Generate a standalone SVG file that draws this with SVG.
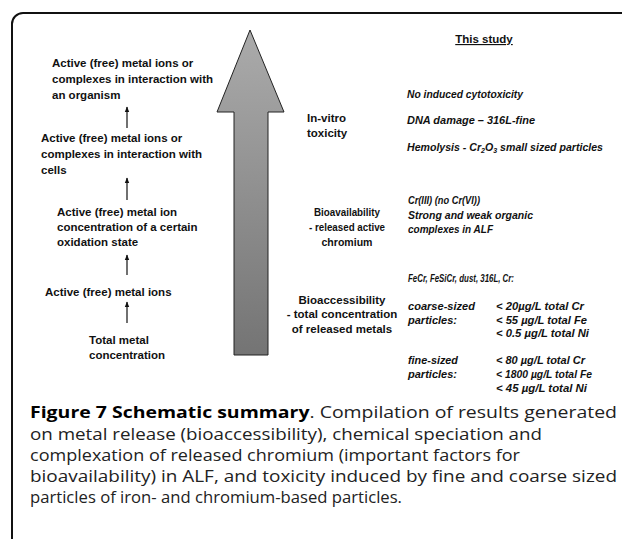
<svg xmlns="http://www.w3.org/2000/svg" width="622" height="539" viewBox="0 0 622 539">
<defs>
<linearGradient id="ag" x1="0" y1="0" x2="0" y2="1">
<stop offset="0" stop-color="#ababab"/>
<stop offset="1" stop-color="#747474"/>
</linearGradient>
<marker id="ah" markerWidth="6" markerHeight="6" refX="5" refY="3" orient="auto" markerUnits="userSpaceOnUse">
<path d="M0,0.8 L5.5,3 L0,5.2 Z" fill="#111"/>
</marker>
</defs>
<style>
.lb{font-family:"Liberation Sans",Arial,sans-serif;font-weight:bold;font-size:11.5px;fill:#111}
.it{font-family:"Liberation Sans",Arial,sans-serif;font-weight:bold;font-style:italic;font-size:10.5px;fill:#111}
.cap{font-family:"Open Sans","Noto Sans",sans-serif;font-size:15.4px;fill:#222}
.sm{stroke:#111;stroke-width:1.2;fill:none}
</style>
<rect width="622" height="539" fill="#fff"/>
<path d="M12,545 V24 A11,11 0 0 1 23,13 H630" fill="none" stroke="#111" stroke-width="2"/>

<g id="big-arrow">
<path d="M250,30 L284,112 L268,112 L268,355 L234,355 L234,112 L217,112 Z" fill="url(#ag)" stroke="#222" stroke-width="1"/>
</g>

<g id="n-organism">
<text class="lb" x="52" y="67">Active (free) metal ions or</text>
<text class="lb" x="52" y="83">complexes in interaction with</text>
<text class="lb" x="52" y="99">an organism</text>
</g>
<g id="n-cells">
<text class="lb" x="41" y="142">Active (free) metal ions or</text>
<text class="lb" x="41" y="158">complexes in interaction with</text>
<text class="lb" x="41" y="174">cells</text>
</g>
<g id="n-oxidation">
<text class="lb" x="57" y="216">Active (free) metal ion</text>
<text class="lb" x="57" y="231">concentration of a certain</text>
<text class="lb" x="57" y="246">oxidation state</text>
</g>
<g id="n-ions">
<text class="lb" x="45" y="296">Active (free) metal ions</text>
</g>
<g id="n-total">
<text class="lb" x="89" y="344">Total metal</text>
<text class="lb" x="89" y="359">concentration</text>
</g>

<g id="connectors">
<line class="sm" x1="127" y1="128" x2="127" y2="107" marker-end="url(#ah)"/>
<line class="sm" x1="127" y1="200" x2="127" y2="178" marker-end="url(#ah)"/>
<line class="sm" x1="127" y1="275" x2="127" y2="255" marker-end="url(#ah)"/>
<line class="sm" x1="127" y1="323" x2="127" y2="302" marker-end="url(#ah)"/>
</g>

<g id="this-study">
<text class="lb" x="484" y="43" text-anchor="middle" font-size="12" text-decoration="underline">This study</text>
</g>

<g id="toxicity">
<text class="lb" x="307" y="122">In-vitro</text>
<text class="lb" x="307" y="137">toxicity</text>
<text class="it" x="407" y="98" textLength="116" lengthAdjust="spacingAndGlyphs">No induced cytotoxicity</text>
<text class="it" x="407" y="124" textLength="128" lengthAdjust="spacingAndGlyphs">DNA damage – 316L-fine</text>
<text class="it" x="407" y="151" textLength="196" lengthAdjust="spacingAndGlyphs">Hemolysis - Cr<tspan font-size="7" dy="2">2</tspan><tspan dy="-2">O</tspan><tspan font-size="7" dy="2">3</tspan><tspan dy="-2"> small sized particles</tspan></text>
</g>

<g id="bioavailability">
<text class="lb" x="347" y="216" text-anchor="middle" textLength="66" lengthAdjust="spacingAndGlyphs">Bioavailability</text>
<text class="lb" x="347" y="231" text-anchor="middle" textLength="76" lengthAdjust="spacingAndGlyphs">- released active</text>
<text class="lb" x="347" y="246" text-anchor="middle" textLength="51" lengthAdjust="spacingAndGlyphs">chromium</text>
<text class="it" x="408" y="204" textLength="72" lengthAdjust="spacingAndGlyphs">Cr(III) (no Cr(VI))</text>
<text class="it" x="408" y="219" textLength="125" lengthAdjust="spacingAndGlyphs">Strong and weak organic</text>
<text class="it" x="408" y="233" textLength="85" lengthAdjust="spacingAndGlyphs">complexes in ALF</text>
</g>

<g id="bioaccessibility">
<text class="lb" x="342" y="304" text-anchor="middle">Bioaccessibility</text>
<text class="lb" x="342" y="318" text-anchor="middle">- total concentration</text>
<text class="lb" x="342" y="333" text-anchor="middle">of released metals</text>
<text class="it" x="408" y="282" textLength="106" lengthAdjust="spacingAndGlyphs">FeCr, FeSiCr, dust, 316L, Cr:</text>
<text class="it" x="408" y="310" textLength="67" lengthAdjust="spacingAndGlyphs">coarse-sized</text>
<text class="it" x="408" y="324" textLength="49" lengthAdjust="spacingAndGlyphs">particles:</text>
<text class="it" x="496" y="310" textLength="88" lengthAdjust="spacingAndGlyphs">&lt; 20µg/L total Cr</text>
<text class="it" x="496" y="324" textLength="91" lengthAdjust="spacingAndGlyphs">&lt; 55 µg/L total Fe</text>
<text class="it" x="496" y="337" textLength="93" lengthAdjust="spacingAndGlyphs">&lt; 0.5 µg/L total Ni</text>
<text class="it" x="408" y="364" textLength="50" lengthAdjust="spacingAndGlyphs">fine-sized</text>
<text class="it" x="408" y="378" textLength="49" lengthAdjust="spacingAndGlyphs">particles:</text>
<text class="it" x="496" y="364" textLength="89" lengthAdjust="spacingAndGlyphs">&lt; 80 µg/L total Cr</text>
<text class="it" x="496" y="378" textLength="96" lengthAdjust="spacingAndGlyphs">&lt; 1800 µg/L total Fe</text>
<text class="it" x="496" y="392" textLength="91" lengthAdjust="spacingAndGlyphs">&lt; 45 µg/L total Ni</text>
</g>

<g id="caption">
<text class="cap" x="30" y="418" textLength="587" lengthAdjust="spacingAndGlyphs"><tspan font-weight="bold" fill="#000">Figure 7 Schematic summary</tspan>. Compilation of results generated</text>
<text class="cap" x="30" y="439.5" textLength="512" lengthAdjust="spacingAndGlyphs">on metal release (bioaccessibility), chemical speciation and</text>
<text class="cap" x="30" y="460.5" textLength="490" lengthAdjust="spacingAndGlyphs">complexation of released chromium (important factors for</text>
<text class="cap" x="30" y="482" textLength="587" lengthAdjust="spacingAndGlyphs">bioavailability) in ALF, and toxicity induced by fine and coarse sized</text>
<text class="cap" x="30" y="503" textLength="372" lengthAdjust="spacingAndGlyphs">particles of iron- and chromium-based particles.</text>
</g>
</svg>
